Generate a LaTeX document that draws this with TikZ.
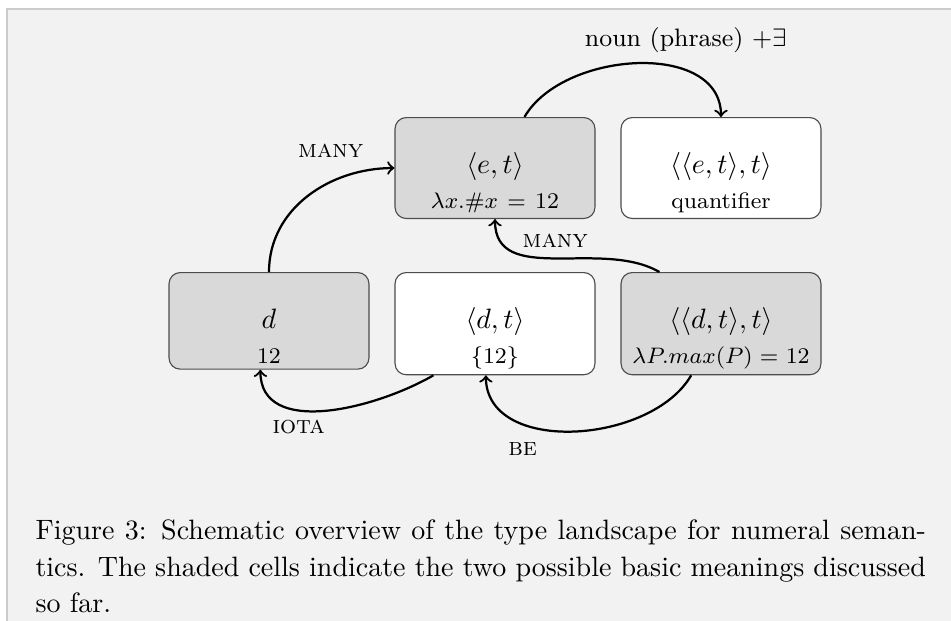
\documentclass[tikz,border=0pt]{standalone}
\usepackage{tikz}
\usetikzlibrary{positioning}

\tikzset{
	typebox/.style={draw=black!70, rounded corners, anchor=north, text width=67.4pt, align=center, inner sep=2pt},
	shaded/.style={fill=black!15},
	unshaded/.style={fill=white},
	typearrow/.style={->, thick},
	oplabel/.style={font=\small\scshape},
}
\def\typecell#1#2{\rule{0pt}{18pt}$#1$\\[0.5pt]{\footnotesize #2}}

\begin{document}
\begin{tikzpicture}[x=0.35714pt, y=-0.35714pt]
	%%%%% START %%%%%
	\useasboundingbox (0,0) rectangle (951,621);
	\fill[black!5] (7,9) rectangle (951,621);
	\draw[black!20] (7,621) -- (7,9) -- (951,9);
	
	% upper row
	\node[typebox, shaded] (et) at (495,117) {\typecell{\langle e,t\rangle}{$\lambda x.\#x$ = 12}};
	\node[typebox, unshaded] (ett) at (721,117) {\typecell{\langle\langle e,t\rangle,t\rangle}{quantifier}};
	
	% lower row
	\node[typebox, shaded] (d) at (269,272) {\typecell{d}{12}};
	\node[typebox, unshaded] (dt) at (495,272) {\typecell{\langle d,t\rangle}{$\{12\}$}};
	\node[typebox, shaded] (dtt) at (721,272) {\typecell{\langle\langle d,t\rangle,t\rangle}{$\lambda P.max(P) = 12$}};
	
	% type shifts
	\draw[typearrow] (d.north) to[out=90, in=180] node[oplabel, pos=0.65, above=5pt] (manyd) {many} (et.west);
	\draw[typearrow] (et.60) to[out=60, in=90] node[font=\small, pos=0.7, above=2.75pt] (nounlab) {noun (phrase) $+\exists$} (ett.north);
	\draw[typearrow] (dtt.140) to[out=150, in=-90] node[oplabel, midway, above] (manydtt) {many} (et.south);
	\draw[typearrow] (dt.-140) to[out=-150, in=-90] node[oplabel, pos=0.63, below] (iota) {iota} (d.-100);
	\draw[typearrow] (dtt.-120) to[out=-120, in=-90] node[oplabel, pos=0.7, below=3pt] (be) {be} (dt.-100);
	
	% caption
	\node[anchor=north west, text width=318pt, align=justify, inner sep=0pt, font=\fontsize{10}{13}\selectfont] (caption) at (35,519.6) {Figure 3: Schematic overview of the type landscape for numeral seman-\break tics. The shaded cells indicate the two possible basic meanings discussed\break so far.};
	%%%%% END %%%%%
\end{tikzpicture}
\end{document}
